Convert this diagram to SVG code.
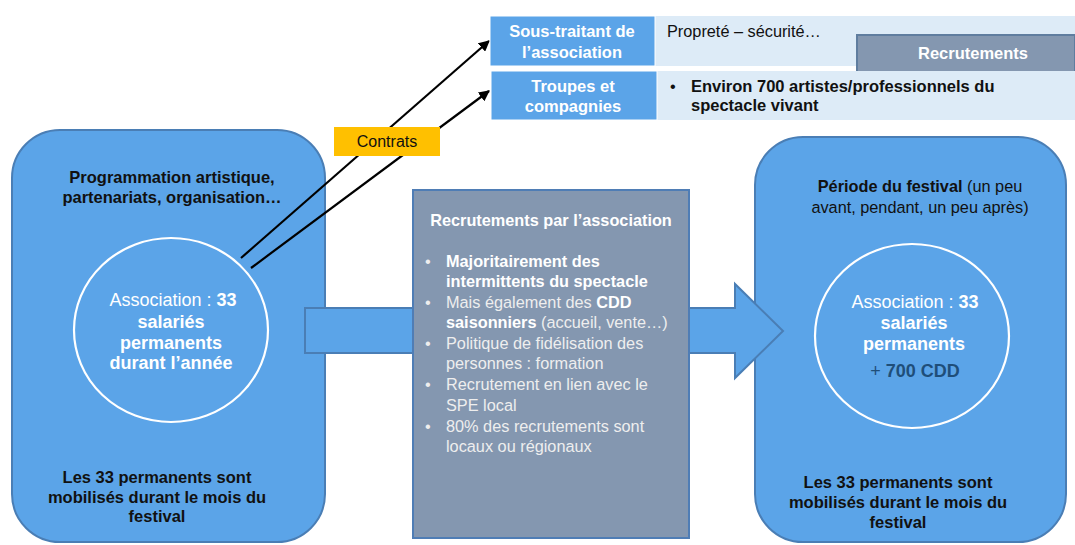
<svg xmlns="http://www.w3.org/2000/svg" width="1075" height="545" viewBox="0 0 1075 545">
<defs>
<style>
text{font-family:"Liberation Sans",Arial,sans-serif;}
.blue{fill:#5BA4E8;stroke:#4A7EB5;stroke-width:2;}
.ring{fill:none;stroke:#FFFFFF;stroke-width:2.2;}
.dk{font-size:16.5px;font-weight:bold;fill:#111111;}
.nk{font-size:16.3px;fill:#111111;}
.wt{font-size:18px;fill:#FFFFFF;}
.b{font-weight:bold;}
.lbl{fill:#5BA4E8;stroke:#FFFFFF;stroke-width:1;}
.lt{fill:#DDEBF7;}
.lw{font-size:16.5px;font-weight:bold;fill:#FFFFFF;}
.slate{fill:#8497B0;}
.mt{font-size:16.3px;fill:#EEEEEE;}
.mb{font-weight:bold;fill:#FFFFFF;}
.con{stroke:#000000;stroke-width:2.2;fill:none;marker-end:url(#ah);}
</style>
<marker id="ah" viewBox="0 0 10 10" refX="9" refY="5" markerWidth="5" markerHeight="5" orient="auto" markerUnits="strokeWidth">
<path d="M0,0 L10,5 L0,10 z" fill="#000000"/>
</marker>
</defs>
<rect width="1075" height="545" fill="#FFFFFF"/>

<g id="left-box">
<rect class="blue" x="12" y="130" width="313" height="412" rx="48" ry="48"/>
<text class="dk" text-anchor="middle" x="172" y="183">Programmation artistique,</text>
<text class="dk" text-anchor="middle" x="172" y="203">partenariats, organisation…</text>
<text class="dk" text-anchor="middle" x="157" y="483">Les 33 permanents sont</text>
<text class="dk" text-anchor="middle" x="157" y="503">mobilisés durant le mois du</text>
<text class="dk" text-anchor="middle" x="157" y="522">festival</text>
</g>

<g id="left-circle">
<ellipse class="ring" cx="171" cy="330" rx="97" ry="92"/>
<text class="wt" text-anchor="middle" x="173" y="306">Association : <tspan class="b">33</tspan></text>
<text class="wt b" text-anchor="middle" x="171" y="328">salariés</text>
<text class="wt b" text-anchor="middle" x="171" y="349">permanents</text>
<text class="wt b" text-anchor="middle" x="171" y="369">durant l’année</text>
</g>

<g id="right-box">
<rect class="blue" x="755" y="137" width="311" height="405" rx="48" ry="48"/>
<text class="nk" text-anchor="middle" x="920" y="192"><tspan font-weight="bold">Période du festival</tspan> (un peu</text>
<text class="nk" text-anchor="middle" x="920" y="213">avant, pendant, un peu après)</text>
<text class="dk" text-anchor="middle" x="898" y="488">Les 33 permanents sont</text>
<text class="dk" text-anchor="middle" x="898" y="508">mobilisés durant le mois du</text>
<text class="dk" text-anchor="middle" x="898" y="528">festival</text>
</g>

<g id="right-circle">
<ellipse class="ring" cx="912" cy="336" rx="97" ry="92"/>
<text class="wt" text-anchor="middle" x="915" y="308">Association : <tspan class="b">33</tspan></text>
<text class="wt b" text-anchor="middle" x="914" y="329">salariés</text>
<text class="wt b" text-anchor="middle" x="914" y="350">permanents</text>
<text font-size="18" fill="#1F4E79" text-anchor="middle" x="915" y="377">+ <tspan font-weight="bold">700 CDD</tspan></text>
</g>

<g id="connectors">
<polygon class="blue" points="305,308 735,308 735,284 783,331 735,378 735,353 305,353"/>
<line class="con" x1="241" y1="258" x2="489" y2="41"/>
<line class="con" x1="251" y1="268" x2="489" y2="91"/>
</g>

<g id="contrats">
<rect x="334" y="127" width="106" height="29" fill="#FFC000"/>
<text font-size="16" fill="#111111" text-anchor="middle" x="387" y="147">Contrats</text>
</g>

<g id="recrutements-association">
<rect class="slate" x="413" y="190" width="276" height="348" stroke="#4F7DB5" stroke-width="2"/>
<text class="mt mb" font-size="16.5" text-anchor="middle" x="551" y="226">Recrutements par l’association</text>
<g class="mt">
<text x="425" y="267">•</text>
<text x="446" y="267" class="mb">Majoritairement des</text>
<text x="446" y="287" class="mb">intermittents du spectacle</text>
<text x="425" y="308">•</text>
<text x="446" y="308">Mais également des <tspan class="mb">CDD</tspan></text>
<text x="446" y="328"><tspan class="mb">saisonniers</tspan> (accueil, vente…)</text>
<text x="425" y="349">•</text>
<text x="446" y="349">Politique de fidélisation des</text>
<text x="446" y="369">personnes : formation</text>
<text x="425" y="390">•</text>
<text x="446" y="390">Recrutement en lien avec le</text>
<text x="446" y="411">SPE local</text>
<text x="425" y="432">•</text>
<text x="446" y="432">80% des recrutements sont</text>
<text x="446" y="452">locaux ou régionaux</text>
</g>
</g>

<g id="sous-traitant">
<rect class="lt" x="655" y="16" width="420" height="50"/>
<rect class="lbl" x="490" y="16" width="165" height="50"/>
<text class="lw" text-anchor="middle" x="572" y="37">Sous-traitant de</text>
<text class="lw" text-anchor="middle" x="572" y="58">l’association</text>
<text class="nk" x="667" y="37">Propreté – sécurité…</text>
</g>

<g id="recrutements">
<rect x="857" y="35" width="218" height="37" fill="#8497B0" stroke="#5F7D9F" stroke-width="2"/>
<text class="lw" text-anchor="middle" x="973" y="59">Recrutements</text>
</g>

<g id="troupes">
<rect class="lt" x="657" y="71" width="418" height="49"/>
<rect class="lbl" x="491" y="71" width="166" height="49"/>
<text class="lw" text-anchor="middle" x="573" y="92">Troupes et</text>
<text class="lw" text-anchor="middle" x="573" y="112">compagnies</text>
<text class="nk" x="670" y="92">•</text>
<text class="dk" x="691" y="92">Environ 700 artistes/professionnels du</text>
<text class="dk" x="691" y="111">spectacle vivant</text>
</g>
</svg>
